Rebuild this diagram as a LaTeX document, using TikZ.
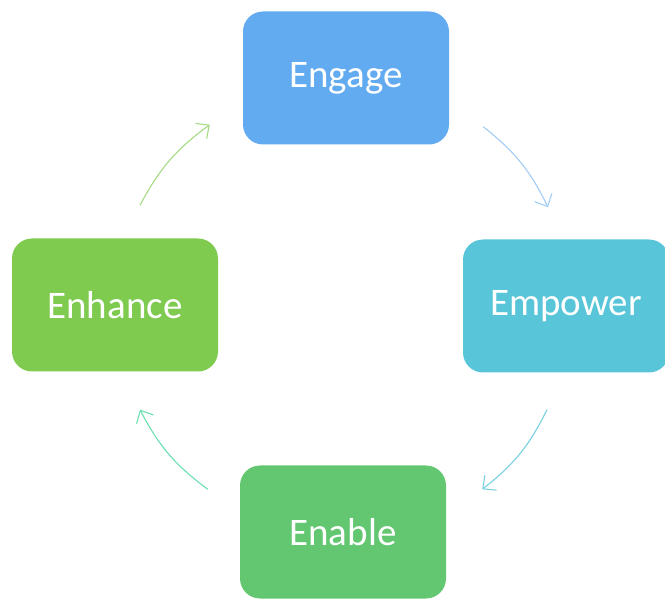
\documentclass[tikz,border=0pt]{standalone}
\usepackage{fontspec}
\setmainfont{Carlito}
\usetikzlibrary{arrows.meta}

\definecolor{engageblue}{HTML}{62ABF0}
\definecolor{empowercyan}{HTML}{58C6D8}
\definecolor{enablegreen}{HTML}{62C770}
\definecolor{enhancegreen}{HTML}{7FCB50}

\tikzset{
  stage/.style={rounded corners=20pt, minimum width=206pt, minimum height=133pt,
    text=white, font=\fontsize{39}{42}\selectfont, inner sep=0pt},
  cycle/.style={-{Straight Barb[length=10pt,width=19pt]}, line width=1.1pt, bend left=13}
}

\begin{document}
\begin{tikzpicture}[x=1pt,y=1pt]
        \useasboundingbox (0,0) rectangle (665,598);
        \node[stage, fill=engageblue] (Engage) at (346, 520) {Engage};
        \node[stage, fill=empowercyan] (Empower) at (566, 292) {Empower};
        \node[stage, fill=enablegreen] (Enable) at (343, 66) {Enable};
        \node[stage, fill=enhancegreen] (Enhance) at (115, 293) {Enhance};

        \draw[cycle, color=engageblue!60] ([shift={(34,18)}]Engage.south east) to ([shift={(-18,32)}]Empower.north);
        \draw[cycle, color=empowercyan!80] ([shift={(-19,-37)}]Empower.south) to ([shift={(36,-24)}]Enable.north east);
        \draw[cycle, color=enablegreen!70!cyan!80] ([shift={(-32,-24)}]Enable.north west) to ([shift={(25,-38)}]Enhance.south);
        \draw[cycle, color=enhancegreen!70] ([shift={(25,33)}]Enhance.north) to ([shift={(-33,20)}]Engage.south west);
    \end{tikzpicture}
\end{document}
